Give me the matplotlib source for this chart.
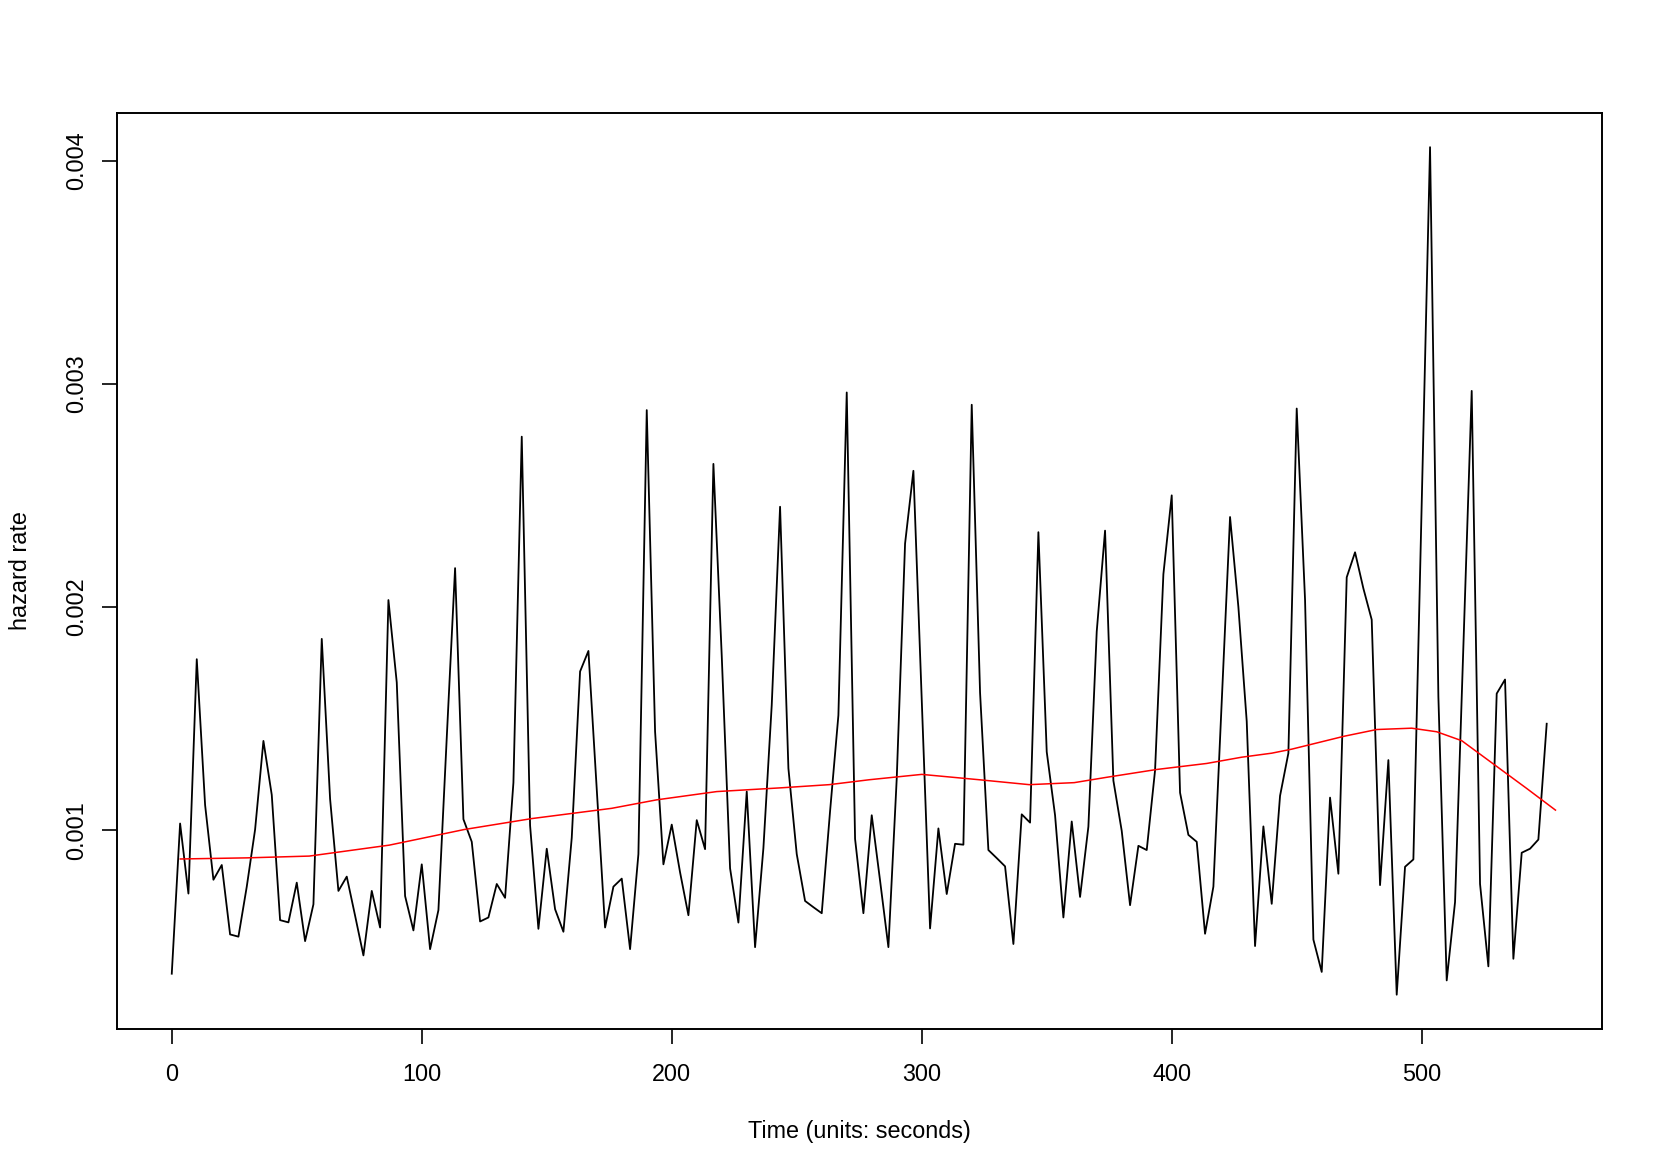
import numpy as np
import matplotlib
matplotlib.use("Agg")
import matplotlib.pyplot as plt

plt.rcParams['font.family'] = ['Liberation Sans', 'DejaVu Sans']

# hazard estimate on an even time grid (values in units of 1e-3)
hazard_e3 = [
    0.357, 1.030, 0.716, 1.766, 1.113, 0.778, 0.844, 0.533, 0.523, 0.747,
    1.003, 1.400, 1.158, 0.597, 0.587, 0.765, 0.503, 0.668, 1.857, 1.140,
    0.728, 0.792, 0.617, 0.439, 0.728, 0.564, 2.031, 1.662, 0.705, 0.551,
    0.847, 0.467, 0.642, 1.415, 2.174, 1.049, 0.948, 0.591, 0.609, 0.759,
    0.697, 1.213, 2.763, 1.021, 0.558, 0.917, 0.646, 0.545, 0.966, 1.711,
    1.803, 1.186, 0.564, 0.747, 0.783, 0.467, 0.893, 2.882, 1.442, 0.847,
    1.025, 0.811, 0.619, 1.045, 0.915, 2.641, 1.781, 0.829, 0.586, 1.173,
    0.476, 0.920, 1.561, 2.449, 1.277, 0.893, 0.683, 0.655, 0.628, 1.085,
    1.515, 2.961, 0.961, 0.628, 1.067, 0.774, 0.476, 1.232, 2.284, 2.610,
    1.579, 0.560, 1.008, 0.714, 0.939, 0.935, 2.906, 1.616, 0.911, 0.875,
    0.838, 0.490, 1.071, 1.034, 2.335, 1.351, 1.067, 0.609, 1.039, 0.701,
    1.016, 1.890, 2.342, 1.222, 0.997, 0.664, 0.930, 0.911, 1.268, 2.147,
    2.500, 1.168, 0.979, 0.948, 0.536, 0.747, 1.576, 2.403, 2.000, 1.488,
    0.481, 1.017, 0.670, 1.154, 1.345, 2.889, 2.032, 0.510, 0.365, 1.146,
    0.805, 2.133, 2.245, 2.083, 1.943, 0.754, 1.314, 0.263, 0.836, 0.869,
    2.464, 4.060, 1.599, 0.327, 0.678, 1.823, 2.968, 0.759, 0.390, 1.612,
    1.675, 0.424, 0.899, 0.917, 0.958, 1.477,
]
t_start, t_end = 0, 550

# smoothed hazard (red)
smooth_t = [3.4, 30, 55, 87, 117, 144, 176, 194, 218, 244, 263, 279, 300, 323, 343,
            361, 374, 394, 414, 428, 440, 448, 469, 482, 496, 506, 516, 529, 542, 553.5]
smooth_e3 = [0.871, 0.876, 0.884, 0.933, 1.003, 1.052, 1.098, 1.136, 1.173, 1.190,
             1.204, 1.226, 1.250, 1.226, 1.204, 1.213, 1.237, 1.272, 1.299, 1.327,
             1.345, 1.363, 1.421, 1.451, 1.457, 1.441, 1.401, 1.294, 1.187, 1.090]

x_ticks = [0, 100, 200, 300, 400, 500]
y_ticks = [0.001, 0.002, 0.003, 0.004]
y_tick_labels = ["0.001", "0.002", "0.003", "0.004"]

hazard = np.array(hazard_e3) * 1e-3
times = np.linspace(t_start, t_end, len(hazard))
smooth = np.array(smooth_e3) * 1e-3

fig = plt.figure(figsize=(16.61, 11.75), dpi=100)
ax = fig.add_axes([0.0703, 0.1246, 0.8940, 0.7790])

ax.plot(times, hazard, color="black", linewidth=1.3)
ax.plot(smooth_t, smooth, color="red", linewidth=1.1)

# R style 4% padding on the data range
xr = times.max() - times.min()
ax.set_xlim(times.min() - 0.04 * xr, times.max() + 0.04 * xr)
yr = hazard.max() - hazard.min()
ax.set_ylim(hazard.min() - 0.04 * yr, hazard.max() + 0.04 * yr)

ax.set_xticks(x_ticks)
ax.set_xticklabels([str(v) for v in x_ticks])
ax.set_yticks(y_ticks)
ax.set_yticklabels(y_tick_labels, rotation=90, va="center")

ax.tick_params(axis="both", length=10.5, width=1.2, labelsize=16.8,
               direction="out")
ax.tick_params(axis="x", pad=14)
ax.tick_params(axis="y", pad=10)
for sp in ax.spines.values():
    sp.set_linewidth(1.4)

ax.set_xlabel("Time (units: seconds)", fontsize=16.8, labelpad=25)
ax.set_ylabel("hazard rate", fontsize=16.8, labelpad=24)

fig.savefig("out.png", dpi=100, facecolor="white")
